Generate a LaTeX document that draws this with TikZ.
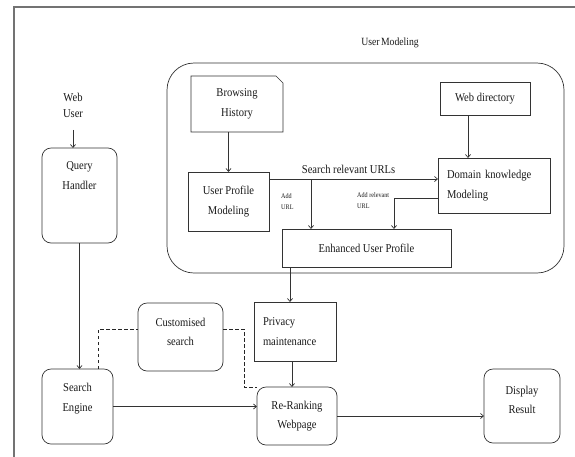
\documentclass[tikz,border=0pt]{standalone}
\usepackage{fontspec}
\setmainfont{Liberation Serif}[FakeStretch=0.88]
\usetikzlibrary{arrows.meta}
\begin{document}
\begin{tikzpicture}[x=1pt,y=-1pt,
  txt/.style={font=\fontsize{12}{19.5}\selectfont, text=black!90},
  box/.style={draw=black!80, line width=0.7pt, inner sep=0pt, outer sep=0pt, txt, align=center},
  rbox/.style={box, rounded corners=9pt},
  boxline/.style={draw=black!80, line width=0.7pt},
  arr/.style={draw=black!80, line width=0.7pt, -{Straight Barb[length=3pt,width=5pt]}},
  dashline/.style={draw=black!85, line width=0.8pt, dash pattern=on 3.5pt off 2.5pt},
  small/.style={font=\fontsize{7}{11}\selectfont, text=black!90, align=left, inner sep=0pt},
  frameline/.style={draw=black!55, line width=1.6pt}
]
\useasboundingbox (0,0) rectangle (575,456);
\draw[frameline] (14,470) -- (14,7) -- (590,7);

% title and user modeling region
\node[txt, font=\fontsize{11}{13}\selectfont] (title) at (390,43) {User\kern1.5pt Modeling};
\node[draw=black!80, line width=0.7pt, rounded corners=27pt, minimum width=397pt, minimum height=210pt, inner sep=0pt] (um) at (365.5,168) {};

% inner boxes
\node[box, draw=none, minimum width=92pt, minimum height=56pt] (bh) at (237,104) {Browsing\\History};
\draw[boxline] (bh.south west) -- (bh.north west) -- ([xshift=-7pt]bh.north east) -- ([yshift=-7pt]bh.north east) -- (bh.south east) -- cycle;
\node[box, minimum width=90pt, minimum height=33pt] (wd) at (485,98.5) {Web directory};
\node[box, minimum width=81pt, minimum height=59pt] (upm) at (228.5,201.5) {User Profile\\Modeling};
\node[box, minimum width=112pt, minimum height=55pt, text width=94pt, align=left] (dkm) at (494,185.5) {Domain knowledge\\Modeling};
\node[box, minimum width=169pt, minimum height=38pt] (eup) at (366.5,248) {Enhanced User Profile};

% left column and bottom row
\node[txt, align=center, font=\fontsize{12}{16}\selectfont] (web) at (73,105) {Web\\User};
\node[rbox, minimum width=75pt, minimum height=95pt, label={[txt,align=center,yshift=20pt]center:{Query\\Handler}}] (qh) at (79.5,195.5) {};
\node[rbox, minimum width=71pt, minimum height=75pt, label={[txt,align=center,yshift=8pt]center:{Search\\Engine}}] (se) at (77.5,406.5) {};
\node[rbox, minimum width=85pt, minimum height=68pt, label={[txt,align=center,yshift=5pt]center:{Customised\\search}}] (cs) at (180.5,337) {};
\node[box, minimum width=82pt, minimum height=59pt, text width=64pt, align=left] (pm) at (295,331.5) {Privacy\\maintenance};
\node[rbox, minimum width=80pt, minimum height=58pt] (rr) at (297,416) {Re-Ranking\\Webpage};
\node[rbox, minimum width=76pt, minimum height=74pt, label={[txt,align=center,yshift=6pt]center:{Display\\Result}}] (dr) at (522,406) {};

% connectors in user modeling
\draw[arr] (upm.north |- bh.south) -- (upm.north);
\draw[arr] ([xshift=-17pt]wd.south) -- ([xshift=-17pt]wd.south |- dkm.north);
\draw[arr] ([yshift=-7pt]upm.north east) -- ([yshift=-7pt]upm.north east -| dkm.west)
  node[txt, midway, above=2pt, xshift=-5pt] (srl) {Search relevant URLs};
\coordinate (j1) at (311,179);
\draw[arr] (j1) -- (j1 |- eup.north);
\node[small, anchor=north west] (addurl) at (281,193) {Add\\URL};
\draw[arr] ([yshift=-40pt]dkm.north west) -| ([xshift=27.5pt]eup.north);
\node[small, anchor=north west] (addrel) at (357,192) {Add relevant\\URL};

% main flow
\draw[arr] ([yshift=-9pt]web.south) -- (web.south |- qh.north);
\draw[arr] (qh.south) -- (qh.south |- se.north);
\draw[arr] ([xshift=-5pt]pm.north |- eup.south) -- ([xshift=-5pt]pm.north);
\draw[arr] ([xshift=-3pt]pm.south) -- ([xshift=-3pt]pm.south |- rr.north);
\draw[arr] (se.east) -- (se.east -| rr.west);
\draw[arr] (rr.east) -- (rr.east -| dr.west);
\draw[dashline] ([xshift=20.5pt]se.north) |- ([yshift=8pt]cs.west);
\draw[dashline] ([yshift=8pt]cs.east) -| ([xshift=-13pt]rr.north west) -- (rr.north west);
\end{tikzpicture}
\end{document}
